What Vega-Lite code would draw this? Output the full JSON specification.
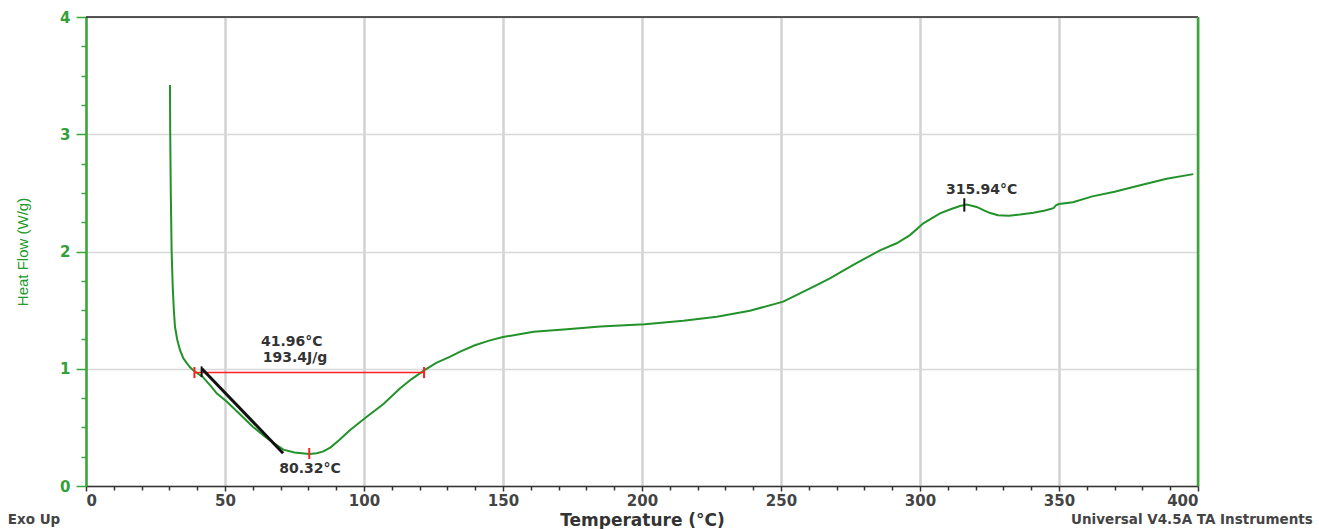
{
  "$schema": "https://vega.github.io/schema/vega-lite/v6.json",
  "width": 1112,
  "height": 469,
  "autosize": "none",
  "padding": {"left": 86, "top": 17, "right": 121, "bottom": 43},
  "background": "white",
  "config": {
    "view": {"stroke": null},
    "font": "DejaVu Sans"
  },
  "resolve": {"axis": {"x": "independent", "y": "independent"}},
  "layer": [
    {
      "data": {"values": [{"t0": 0, "t1": 400, "h": 4}]},
      "mark": {"type": "rule", "color": "#222222", "strokeWidth": 1.5},
      "encoding": {
        "x": {"field": "t0", "type": "quantitative", "scale": {"domain": [0, 400], "nice": false},
          "axis": {"orient": "bottom", "values": [10,20,30,40,60,70,80,90,110,120,130,140,160,170,180,190,210,220,230,240,260,270,280,290,310,320,330,340,360,370,380,390],
            "labels": false, "grid": false, "domain": false, "title": null, "tickSize": 4, "tickColor": "#333333", "tickWidth": 1.5, "tickOffset": 0}},
        "x2": {"field": "t1"},
        "y": {"field": "h", "type": "quantitative", "scale": {"domain": [0, 4], "nice": false},
          "axis": {"orient": "left", "values": [0.25,0.5,0.75,1.25,1.5,1.75,2.25,2.5,2.75,3.25,3.5,3.75],
            "labels": false, "grid": false, "domain": false, "title": null, "tickSize": 5, "tickColor": "#3aa63a", "tickWidth": 1.5}}
      }
    },
    {
      "data": {"values": [
        {"T": 30.2, "H": 3.42}, {"T": 30.3, "H": 3.0}, {"T": 30.5, "H": 2.5}, {"T": 30.8, "H": 2.0},
        {"T": 31.2, "H": 1.7}, {"T": 31.6, "H": 1.5}, {"T": 32.0, "H": 1.36}, {"T": 32.8, "H": 1.25},
        {"T": 33.8, "H": 1.16}, {"T": 35.0, "H": 1.09}, {"T": 36.2, "H": 1.05}, {"T": 37.5, "H": 1.01},
        {"T": 39.2, "H": 0.975}, {"T": 42, "H": 0.93}, {"T": 45, "H": 0.85}, {"T": 47, "H": 0.79},
        {"T": 50.6, "H": 0.72}, {"T": 55, "H": 0.62}, {"T": 60, "H": 0.506}, {"T": 65, "H": 0.41},
        {"T": 68.6, "H": 0.35}, {"T": 71, "H": 0.31}, {"T": 75, "H": 0.285}, {"T": 80.3, "H": 0.273},
        {"T": 83, "H": 0.28}, {"T": 85.4, "H": 0.295}, {"T": 88, "H": 0.33}, {"T": 91, "H": 0.39},
        {"T": 95, "H": 0.478}, {"T": 101, "H": 0.59}, {"T": 107, "H": 0.7}, {"T": 113, "H": 0.833},
        {"T": 117, "H": 0.91}, {"T": 121.9, "H": 0.99}, {"T": 126, "H": 1.05}, {"T": 131, "H": 1.103},
        {"T": 135, "H": 1.15}, {"T": 139.9, "H": 1.2}, {"T": 145, "H": 1.24}, {"T": 150, "H": 1.27},
        {"T": 161, "H": 1.316}, {"T": 173, "H": 1.336}, {"T": 185, "H": 1.36}, {"T": 201, "H": 1.38},
        {"T": 214.9, "H": 1.41}, {"T": 226.9, "H": 1.444}, {"T": 238.8, "H": 1.495}, {"T": 250.8, "H": 1.572},
        {"T": 259.2, "H": 1.67}, {"T": 262.8, "H": 1.714}, {"T": 267.6, "H": 1.77}, {"T": 276, "H": 1.885},
        {"T": 285.6, "H": 2.01}, {"T": 291.6, "H": 2.07}, {"T": 296.4, "H": 2.14}, {"T": 301.2, "H": 2.24},
        {"T": 307.2, "H": 2.325}, {"T": 311, "H": 2.36}, {"T": 314.4, "H": 2.388}, {"T": 316.8, "H": 2.4},
        {"T": 320.4, "H": 2.38}, {"T": 323, "H": 2.35}, {"T": 325, "H": 2.33}, {"T": 328, "H": 2.31},
        {"T": 332, "H": 2.305}, {"T": 336, "H": 2.315}, {"T": 340.8, "H": 2.33}, {"T": 345, "H": 2.35},
        {"T": 348, "H": 2.37}, {"T": 349, "H": 2.395}, {"T": 350, "H": 2.405}, {"T": 355, "H": 2.42},
        {"T": 362, "H": 2.47}, {"T": 370, "H": 2.51}, {"T": 376.7, "H": 2.55}, {"T": 388.7, "H": 2.62},
        {"T": 398.3, "H": 2.66}
      ]},
      "mark": {"type": "line", "color": "#22922a", "strokeWidth": 2},
      "encoding": {
        "x": {"field": "T", "type": "quantitative", "scale": {"domain": [0, 400], "nice": false},
          "axis": {"orient": "bottom", "values": [0,50,100,150,200,250,300,350,400], "title": "Temperature (°C)",
            "titleFont": "DejaVu Sans", "titleFontSize": 17, "titleFontWeight": "bold", "titleColor": "#333333", "titlePadding": 4,
            "labelFont": "DejaVu Sans", "labelFontSize": 15, "labelFontWeight": "bold", "labelColor": "#444444", "labelPadding": 2,
            "tickSize": 5, "tickColor": "#333333", "tickWidth": 1.5,
            "domainColor": "#333333", "domainWidth": 1.5,
            "grid": true, "gridColor": "#d2d2d2", "gridWidth": 2.5}},
        "y": {"field": "H", "type": "quantitative", "scale": {"domain": [0, 4], "nice": false},
          "axis": {"orient": "left", "values": [0,1,2,3,4], "title": "Heat Flow (W/g)",
            "titleFont": "Liberation Sans", "titleFontSize": 15, "titleFontWeight": "normal", "titleColor": "#22992a", "titlePadding": 29,
            "labelFont": "DejaVu Sans", "labelFontSize": 15, "labelFontWeight": "bold", "labelColor": "#33a03a", "labelPadding": 6,
            "tickSize": 10, "tickColor": "#3aa63a", "tickWidth": 1.5,
            "domainColor": "#3aa63a", "domainWidth": 2.5,
            "grid": true, "gridColor": "#d8d8d8", "gridWidth": 1.5}}
      }
    },
    {
      "data": {"values": [{"t": 400, "h0": 0, "h1": 4}]},
      "mark": {"type": "rule", "color": "#3aa63a", "strokeWidth": 2.5},
      "encoding": {
        "x": {"field": "t", "type": "quantitative", "scale": {"domain": [0, 400], "nice": false}, "axis": null},
        "y": {"field": "h0", "type": "quantitative", "scale": {"domain": [0, 4], "nice": false}, "axis": null},
        "y2": {"field": "h1"}
      }
    },
    {
      "data": {"values": [{"t0": 39.0, "t1": 121.6, "h": 0.969}]},
      "mark": {"type": "rule", "color": "#ff2020", "strokeWidth": 1.5},
      "encoding": {
        "x": {"field": "t0", "type": "quantitative", "scale": {"domain": [0, 400], "nice": false}, "axis": null},
        "x2": {"field": "t1"},
        "y": {"field": "h", "type": "quantitative", "scale": {"domain": [0, 4], "nice": false}, "axis": null}
      }
    },
    {
      "data": {"values": [
        {"t": 39.0, "h0": 0.92, "h1": 1.015},
        {"t": 121.6, "h0": 0.92, "h1": 1.015},
        {"t": 80.3, "h0": 0.23, "h1": 0.324}
      ]},
      "mark": {"type": "rule", "color": "#ff2020", "strokeWidth": 2},
      "encoding": {
        "x": {"field": "t", "type": "quantitative", "scale": {"domain": [0, 400], "nice": false}, "axis": null},
        "y": {"field": "h0", "type": "quantitative", "scale": {"domain": [0, 4], "nice": false}, "axis": null},
        "y2": {"field": "h1"}
      }
    },
    {
      "data": {"values": [{"t0": 41.7, "h0": 1.0, "t1": 70.9, "h1": 0.28}]},
      "mark": {"type": "rule", "color": "#111111", "strokeWidth": 3},
      "encoding": {
        "x": {"field": "t0", "type": "quantitative", "scale": {"domain": [0, 400], "nice": false}, "axis": null},
        "x2": {"field": "t1"},
        "y": {"field": "h0", "type": "quantitative", "scale": {"domain": [0, 4], "nice": false}, "axis": null},
        "y2": {"field": "h1"}
      }
    },
    {
      "data": {"values": [
        {"t": 41.6, "h0": 0.93, "h1": 1.02},
        {"t": 315.94, "h0": 2.34, "h1": 2.454}
      ]},
      "mark": {"type": "rule", "color": "#111111", "strokeWidth": 2},
      "encoding": {
        "x": {"field": "t", "type": "quantitative", "scale": {"domain": [0, 400], "nice": false}, "axis": null},
        "y": {"field": "h0", "type": "quantitative", "scale": {"domain": [0, 4], "nice": false}, "axis": null},
        "y2": {"field": "h1"}
      }
    },
    {
      "data": {"values": [
        {"T": 74.0, "H": 1.228, "label": "41.96°C"},
        {"T": 75.2, "H": 1.094, "label": "193.4J/g"},
        {"T": 80.6, "H": 0.142, "label": "80.32°C"},
        {"T": 322.2, "H": 2.524, "label": "315.94°C"}
      ]},
      "mark": {"type": "text", "color": "#333333", "font": "DejaVu Sans", "fontWeight": "bold", "fontSize": 14, "align": "center", "baseline": "middle"},
      "encoding": {
        "x": {"field": "T", "type": "quantitative", "scale": {"domain": [0, 400], "nice": false}, "axis": null},
        "y": {"field": "H", "type": "quantitative", "scale": {"domain": [0, 4], "nice": false}, "axis": null},
        "text": {"field": "label"}
      }
    },
    {
      "data": {"values": [
        {"T": -18.7, "H": -0.29, "label": "Exo Up"},
        {"T": 397.8, "H": -0.29, "label": "Universal V4.5A TA Instruments"}
      ]},
      "mark": {"type": "text", "color": "#444444", "font": "DejaVu Sans", "fontSize": 13.5, "fontWeight": "bold", "align": "center", "baseline": "middle"},
      "encoding": {
        "x": {"field": "T", "type": "quantitative", "scale": {"domain": [0, 400], "nice": false}, "axis": null},
        "y": {"field": "H", "type": "quantitative", "scale": {"domain": [0, 4], "nice": false}, "axis": null},
        "text": {"field": "label"}
      }
    }
  ]
}
